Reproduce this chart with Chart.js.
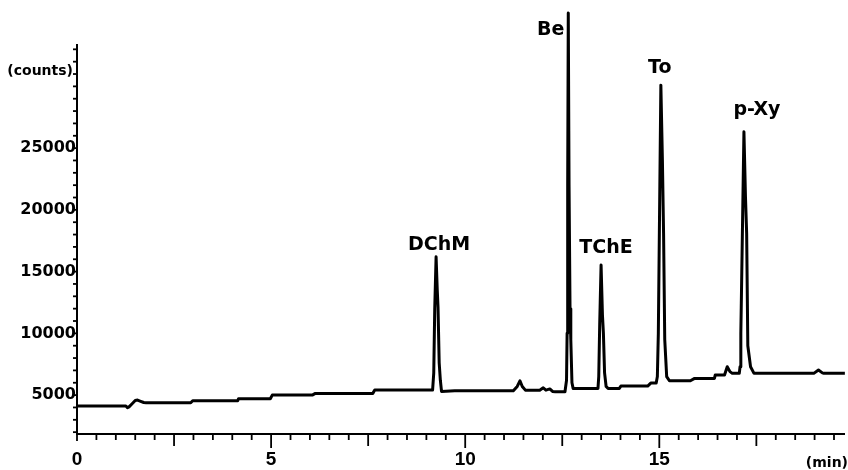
<!DOCTYPE html>
<html>
<head>
<meta charset="utf-8">
<script src="https://cdn.jsdelivr.net/npm/chart.js@4/dist/chart.umd.min.js"></script>
<style>
  html, body { margin: 0; padding: 0; background: #fff; }
  #wrap { width: 848px; height: 470px; }
</style>
</head>
<body>
<div id="wrap"><canvas id="c" width="848" height="470"></canvas></div>
<script>
// ---- data ----
const times = [
  0, 1.26, 1.30, 1.34, 1.42, 1.50, 1.56, 1.64, 1.72, 1.78, 2.93, 2.98, 4.14, 4.16, 4.98, 5.03,
  6.06, 6.14, 7.62, 7.67, 9.16,
  9.19, 9.215, 9.25, 9.28, 9.30, 9.33, 9.36, 9.39,
  9.73, 11.24, 11.34, 11.41, 11.47, 11.55, 11.92, 12.01, 12.08, 12.18, 12.25, 12.32, 12.57,
  12.61, 12.625, 12.64, 12.655, 12.675, 12.70, 12.72, 12.75, 12.78,
  13.42, 13.44, 13.465, 13.50, 13.535, 13.56, 13.59, 13.63, 13.68,
  13.97, 14.01, 14.70, 14.78, 14.92,
  14.95, 14.975, 15.04, 15.08, 15.11, 15.14, 15.19, 15.26,
  15.80, 15.91, 16.42, 16.44, 16.68, 16.75, 16.82, 16.88, 17.06,
  17.08, 17.10, 17.12, 17.18, 17.22, 17.25, 17.28, 17.35, 17.44,
  18.98, 19.10, 19.20, 19.24, 19.78
];
const counts = [
  4111, 4111, 3980, 4050, 4300, 4560, 4600, 4500, 4400, 4378, 4378, 4540, 4540, 4702, 4702, 5002,
  5002, 5139, 5139, 5407, 5407,
  6800, 12000, 16200, 13500, 12100, 7600, 6200, 5300,
  5350, 5350, 5700, 6160, 5700, 5400, 5400, 5593, 5400, 5500, 5300, 5269, 5269,
  6200, 10000, 22000, 35950, 22000, 12000, 9500, 6000, 5544,
  5544, 6500, 10800, 15530, 11500, 10000, 6800, 5700, 5544,
  5544, 5731, 5731, 5974, 5974,
  6500, 10000, 30100, 24000, 18100, 9500, 6500, 6160,
  6160, 6354, 6354, 6622, 6622, 7294, 6900, 6760, 6760,
  7300, 10000, 14000, 26330, 21000, 18100, 9000, 7300, 6760,
  6760, 7027, 6800, 6760, 6760
];
const peakNames = ['DChM', 'Be', 'TChE', 'To', 'p-Xy'];
const peakTimes = [9.25, 12.655, 13.50, 15.04, 17.18];
const peakHeights = [16200, 35950, 15530, 30100, 26330];
const xLabelValues = [0, 5, 10, 15];
const yLabelValues = [5000, 10000, 15000, 20000, 25000];
const xUnit = '(min)';
const yUnit = '(counts)';

// ---- chart ----
const points = times.map((t, i) => ({ x: t, y: counts[i] }));

const labelPlacement = { // pixel offsets from peak apex: dx, dy(baseline), align
  'DChM': [3, -7, 'center'],
  'Be': [-4, 22, 'right'],
  'TChE': [5, -12, 'center'],
  'To': [-1, -12, 'center'],
  'p-Xy': [13, -17, 'center']
};

const decor = {
  id: 'decor',
  afterDraw(chart) {
    const ctx = chart.ctx, xs = chart.scales.x, ys = chart.scales.y, a = chart.chartArea;
    ctx.save();
    ctx.strokeStyle = '#000';
    ctx.lineWidth = 1.8;
    // x tick marks (every 0.5 min)
    for (const tk of xs.ticks) {
      const v = tk.value;
      const px = xs.getPixelForValue(v);
      let len = 6;
      if (v === 0) len = 7;
      else if (Math.abs(v % 5) < 1e-6) len = 14;
      else if (Math.abs(v % 2.5) < 1e-6) len = 12;
      ctx.beginPath();
      ctx.moveTo(px, a.bottom);
      ctx.lineTo(px, a.bottom + len);
      ctx.stroke();
    }
    // y tick marks (every 1000 counts), on the left of the axis
    for (const tk of ys.ticks) {
      const py = ys.getPixelForValue(tk.value);
      ctx.beginPath();
      ctx.moveTo(a.left, py);
      ctx.lineTo(a.left - 4, py);
      ctx.stroke();
    }
    // unit labels
    ctx.fillStyle = '#000';
    ctx.font = 'bold 14px "DejaVu Sans"';
    ctx.textBaseline = 'middle';
    ctx.textAlign = 'right';
    ctx.fillText(yUnit, a.left - 4, a.top + 26);
    ctx.fillText(xUnit, chart.width, 463);
    // peak labels
    ctx.font = 'bold 19px "DejaVu Sans"';
    ctx.textBaseline = 'alphabetic';
    peakNames.forEach((name, i) => {
      const p = labelPlacement[name];
      const px = xs.getPixelForValue(peakTimes[i]);
      const py = ys.getPixelForValue(peakHeights[i]);
      ctx.textAlign = p[2];
      ctx.fillText(name, px + p[0], py + p[1]);
    });
    ctx.restore();
  }
};

new Chart(document.getElementById('c'), {
  type: 'line',
  data: {
    datasets: [{
      data: points,
      borderColor: '#000',
      borderWidth: 3,
      borderJoinStyle: 'round',
      pointRadius: 0,
      tension: 0,
      fill: false,
      clip: false
    }]
  },
  options: {
    responsive: false,
    animation: false,
    devicePixelRatio: 1,
    layout: { padding: { top: 45, right: 0, left: 0, bottom: 0 } },
    plugins: { legend: { display: false }, tooltip: { enabled: false } },
    scales: {
      x: {
        type: 'linear',
        min: 0,
        max: 19.77,
        afterFit(scale) { scale.height = 36; },
        afterBuildTicks(scale) {
          const t = [];
          for (let i = 0; i <= 39; i++) t.push({ value: i / 2 });
          scale.ticks = t;
        },
        grid: { display: true, drawOnChartArea: false, drawTicks: false },
        border: { display: true, color: '#000', width: 2 },
        ticks: {
          autoSkip: false,
          maxRotation: 0,
          padding: 14,
          color: '#000',
          font: { family: 'Liberation Sans', weight: 'bold', size: 19 },
          callback: (v) => xLabelValues.includes(v) ? String(v) : ''
        }
      },
      y: {
        type: 'linear',
        min: 1850,
        max: 33350,
        afterFit(scale) { scale.width = 77; },
        afterBuildTicks(scale) {
          const t = [];
          for (let v = 2000; v <= 33000; v += 1000) t.push({ value: v });
          scale.ticks = t;
        },
        grid: { display: true, drawOnChartArea: false, drawTicks: false },
        border: { display: true, color: '#000', width: 2 },
        ticks: {
          autoSkip: false,
          padding: 1,
          color: '#000',
          font: { family: 'DejaVu Sans', weight: 'bold', size: 16 },
          callback: (v) => yLabelValues.includes(v) ? String(v) : ''
        }
      }
    }
  },
  plugins: [decor]
});
</script>
</body>
</html>
